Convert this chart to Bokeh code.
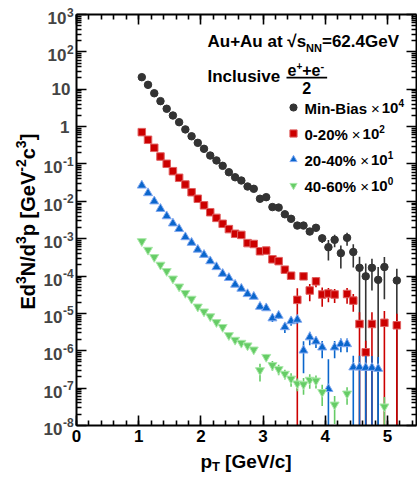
import math
from bokeh.plotting import figure
from bokeh.models import (Range1d, FixedTicker, LogAxis, LinearAxis, Label, Legend,
                          LegendItem, BoxAnnotation, CustomJSTickFormatter)
from bokeh.embed import file_html
from bokeh.resources import INLINE

nan = float("nan")

# pT bin centres [GeV/c]
pt = [1.05, 1.15, 1.25, 1.35, 1.45, 1.55, 1.65, 1.75, 1.85, 1.95,
      2.05, 2.15, 2.25, 2.35, 2.45, 2.55, 2.65, 2.75, 2.85, 2.95,
      3.05, 3.15, 3.25, 3.35, 3.45, 3.55, 3.65, 3.75, 3.85, 3.95,
      4.05, 4.15, 4.25, 4.35, 4.45, 4.55, 4.65, 4.75, 4.85, 4.95,
      5.05, 5.15]

# Min-Bias x 10^4
minbias = [21.0, 13.1, 7.8, 4.8, 3.0, 1.98, 1.31, 0.84, 0.55, 0.367,
           0.254, 0.168, 0.124, 0.089, 0.060, 0.044, 0.036, 0.0249, 0.0216, 0.0117,
           0.0129, 0.0070, 0.0068, 0.0045, 0.0034, 0.00224, 0.00224, 0.00155, 0.00195, 0.00102,
           5.9e-4, 9.3e-4, 4.1e-4, 1.05e-3, 4.4e-4, 1.66e-4, 9.8e-5, 1.66e-4, 7.9e-5, 1.74e-4,
           nan, 7.6e-5]
minbias_err = [0, 0, 0, 0, 0, 0, 0, 0, 0, 0,
               0, 0, 0, 0, 0, 0, 0, 0, 0, 0,
               0, 0, 0, 0, 0, 2e-4, 2e-4, 1.5e-4, 2e-4, 2.5e-4,
               3.3e-4, 3.4e-4, 2.5e-4, 4e-4, 2.7e-4, 1.6e-4, 1.2e-4, 1.25e-4, 9.5e-5, 1.5e-4,
               0, 8e-5]

# 0-20% x 10^2
cent0020 = [0.71, 0.443, 0.270, 0.158, 0.101, 0.064, 0.0426, 0.0282, 0.0175, 0.0117,
            0.0078, 0.0051, 0.0036, 0.0025, 0.0018, 0.00135, 0.00126, 7.6e-4, 7.2e-4, 4.6e-4,
            4.8e-4, 2.8e-4, 2.5e-4, 1.48e-4, 1.02e-4, 2.3e-5, 9.8e-5, 4.1e-5, 7.2e-5, 3.2e-5,
            3.4e-5, 3.2e-5, nan, 3.3e-5, 2.2e-5, 5.2e-6, 9.1e-7, 5.2e-6, nan, 5.6e-6,
            nan, 4.8e-6]
cent0020_err = [0, 0, 0, 0, 0, 0, 0, 0, 0, 0,
                0, 0, 0, 0, 0, 0, 0, 0, 0, 0,
                0, 2.5e-5, 2.5e-5, 1.8e-5, 1.5e-5, 2.4e-5, 2e-5, 2e-5, 2.2e-5, 1.7e-5,
                1.4e-5, 1.3e-5, 0, 1.5e-5, 1.1e-5, 5.5e-6, 9.5e-7, 5.5e-6, 0, 5.9e-6,
                0, 5.0e-6]

# 20-40% x 10^1
cent2040 = [0.0265, 0.0166, 0.0100, 0.0063, 0.0040, 0.00257, 0.00182, 0.00110, 7.8e-4, 5.1e-4,
            3.7e-4, 2.5e-4, 1.74e-4, 1.15e-4, 8.9e-5, 5.9e-5, 4.6e-5, 3.3e-5, 2.8e-5, 1.51e-5,
            1.38e-5, 7.4e-6, 8.7e-6, 4.3e-6, 6.2e-6, 6.8e-6, 1.02e-6, 2.3e-6, 1.78e-6, 1.23e-6,
            9.5e-8, 1.23e-6, 1.51e-6, 1.51e-6, 3.6e-7, 3.6e-7, 3.5e-7, 3.5e-7, 3.3e-7, nan,
            nan, nan]
cent2040_err = [0, 0, 0, 0, 0, 0, 0, 0, 0, 0,
                0, 0, 0, 0, 0, 0, 0, 0, 0, 0,
                1.5e-6, 1.5e-6, 1.5e-6, 1.3e-6, 1.5e-6, 1.5e-6, 7.7e-7, 9e-7, 6e-7, 6e-7,
                5e-7, 6e-7, 6e-7, 6e-7, 3.8e-7, 3.8e-7, 3.7e-7, 3.7e-7, 3.5e-7, 0,
                0, 0]

# 40-60% x 10^0
cent4060 = [8.5e-4, 5.0e-4, 3.2e-4, 2.0e-4, 1.35e-4, 8.5e-5, 5.2e-5, 3.5e-5, 2.45e-5, 1.51e-5,
            1.12e-5, 8.3e-6, 5.8e-6, 4.3e-6, 2.6e-6, 1.95e-6, 1.62e-6, 1.38e-6, 1.07e-6, 3.0e-7,
            6.8e-7, 4.1e-7, 3.2e-7, 2.4e-7, 1.78e-7, 1.32e-7, 1.26e-7, 1.66e-7, 1.58e-7, 7.8e-8,
            nan, 3.6e-8, nan, 7.1e-8, nan, nan, nan, nan, nan, 3.2e-8,
            nan, nan]
cent4060_err = [0, 0, 0, 0, 0, 0, 0, 0, 0, 0,
                0, 0, 0, 0, 0, 0, 0, 0, 0, 1.5e-7,
                1.4e-7, 1.2e-7, 1e-7, 7e-8, 7e-8, 5e-8, 6e-8, 7e-8, 6e-8, 4.5e-8,
                0, 2.5e-8, 0, 3.5e-8, 0, 0, 0, 0, 0, 2.6e-8,
                0, 0]

legend_names = ["Min-Bias", "0-20%", "20-40%", "40-60%"]
legend_exps = ["4", "2", "1", "0"]
y_decades = list(range(-8, 4))
x_major = [0, 1, 2, 3, 4, 5]
X_AXIS_MAX = 5.47
Y_AXIS_MIN, Y_AXIS_MAX = 1e-8, 1e3

# ---------------- layout constants (pixels) ----------------
W, H = 417, 478
X0_PX, PX_PER_X = 76.0, 62.2          # page x of pT=0, pixels per GeV/c
YTOP_PX, PX_PER_DEC = 14.0, 37.36     # page y of 10^3, pixels per decade
FONT = "Liberation Sans"

x_lo = -X0_PX / PX_PER_X
x_hi = (W - X0_PX) / PX_PER_X
y_hi = 10 ** (math.log10(Y_AXIS_MAX) + YTOP_PX / PX_PER_DEC)
y_lo = 10 ** (math.log10(Y_AXIS_MAX) - (H - YTOP_PX) / PX_PER_DEC)

p = figure(width=W, height=H, x_range=Range1d(x_lo, x_hi), y_range=Range1d(y_lo, y_hi),
           y_axis_type="log", output_backend="svg", toolbar_location=None, min_border=0)
p.grid.visible = False
p.outline_line_color = None
p.background_fill_color = "white"
p.border_fill_color = "white"


def add_series(vals, errs, color, edge, marker, size):
    xs, lo, hi = [], [], []
    for x, v, e in zip(pt, vals, errs):
        if not math.isnan(v) and e > 0:
            xs.append(x)
            lo.append(max(v - e, Y_AXIS_MIN))
            hi.append(v + e)
    p.segment(x0=xs, y0=lo, x1=xs, y1=hi, line_color=color, line_width=1.6)
    return p.scatter(pt, vals, marker=marker, size=size, fill_color=color,
                     line_color=edge, line_width=1)


r_mb = add_series(minbias, minbias_err, "#333333", "#333333", "circle", 7.5)
r_c0 = add_series(cent0020, cent0020_err, "#cc0000", "#e06060", "square", 7.5)
r_c2 = add_series(cent2040, cent2040_err, "#0a66cc", "#80a8f0", "triangle", 9)
r_c4 = add_series(cent4060, cent4060_err, "#66cc66", "#a8e8a8", "inverted_triangle", 9)

# ---------------- axes (frame drawn by 4 fixed-location axes) ----------------
xt = FixedTicker(ticks=x_major, minor_ticks=[round(0.2 * i, 1) for i in range(0, 28)])
yt = FixedTicker(ticks=[10.0 ** k for k in y_decades],
                 minor_ticks=[m * 10.0 ** k for k in y_decades[:-1] for m in range(2, 10)])
blank = CustomJSTickFormatter(code="return ''")

xb = p.below[0]
yl = p.left[0]
xb.ticker = xt
yl.ticker = yt
yl.formatter = blank
xb.fixed_location = Y_AXIS_MIN
yl.fixed_location = 0
xa = LinearAxis(ticker=xt, formatter=blank, fixed_location=Y_AXIS_MAX)
yr = LogAxis(ticker=yt, formatter=blank, fixed_location=X_AXIS_MAX)
p.add_layout(xa, "above")
p.add_layout(yr, "right")

for ax in (xb, xa):
    ax.bounds = (0, X_AXIS_MAX)
for ax in (yl, yr):
    ax.bounds = (Y_AXIS_MIN, Y_AXIS_MAX)

for ax in (xb, xa, yl, yr):
    ax.axis_line_width = 2
    ax.axis_line_color = "black"
    ax.major_tick_in = 10
    ax.major_tick_out = 0
    ax.minor_tick_in = 5
    ax.minor_tick_out = 0
    ax.major_tick_line_width = 1.6
    ax.minor_tick_line_width = 1.6

for ax in (xa, yl, yr):
    ax.major_label_text_font_size = "0px"
    ax.major_label_standoff = 0

xb.major_label_text_font = FONT
xb.major_label_text_font_style = "bold"
xb.major_label_text_font_size = "17px"
xb.major_label_text_color = "black"
xb.major_label_standoff = 5

# ---------------- text helpers ----------------
AW = {'E': 667, 'd': 611, 'N': 722, '/': 278, 'p': 611, ' ': 278, '[': 333, 'G': 778,
      'e': 556, 'V': 667, 'c': 556, ']': 333, '-': 333, 'A': 722, 'u': 611, '+': 584,
      'a': 556, 't': 333, 's': 556, '=': 584, '.': 278, 'I': 278, 'n': 611, 'l': 278,
      'i': 278, 'v': 556, 'M': 833, 'B': 722, '%': 889, '×': 584, '√': 549, 'T': 611}


def tw(s, size):
    return sum(AW.get(c, 556) for c in s) * size / 1000.0


def lab(text, px, py, size, align="left", angle=0.0, style="bold"):
    """py is the vertical centre (middle) of the text line in page pixels."""
    p.add_layout(Label(x=px, y=H - py, x_units="screen", y_units="screen", text=text,
                       text_font=FONT, text_font_size=f"{size}px", text_font_style=style,
                       text_align=align, text_baseline="middle", angle=angle,
                       text_color="black"))


def compose(px, py, pieces):
    for text, size, rise, style in pieces:
        lab(text, px, py - rise, size, style=style)
        px += tw(text, size)
    return px


# y tick labels (placed on the data scale of the y axis)
for k in y_decades:
    yv = 10.0 ** k
    if k in (0, 1):
        txt = "1" if k == 0 else "10"
        p.add_layout(Label(x=70 if k == 1 else 69, x_units="screen", y=yv, y_units="data",
                           text=txt, text_font=FONT, text_font_size="17px",
                           text_font_style="bold", text_align="right", text_baseline="middle"))
    else:
        base_r = 66 if k > 0 else 62
        p.add_layout(Label(x=base_r, x_units="screen", y=yv, y_units="data", y_offset=-3.5,
                           text="10", text_font=FONT, text_font_size="17px",
                           text_font_style="bold", text_align="right", text_baseline="middle"))
        p.add_layout(Label(x=base_r + 0.5, x_units="screen", y=yv, y_units="data", y_offset=2.5,
                           text=str(k), text_font=FONT, text_font_size="12px",
                           text_font_style="bold", text_align="left", text_baseline="middle"))

# header
compose(207, 40.5, [("Au+Au at √s", 17, 0, "bold"), ("NN", 11, -6.5, "bold"),
                    ("=62.4GeV", 17, 0, "bold")])
compose(207, 75.5, [("Inclusive", 17, 0, "bold")])
num_end = compose(287, 69.0, [("e", 16, 0, "bold"), ("+", 10, 4, "bold"),
                              ("+e", 16, 0, "bold"), ("-", 11, 4, "bold")])
p.add_layout(BoxAnnotation(left=286, right=num_end + 3, top=H - 76.3, bottom=H - 78.0,
                           left_units="screen", right_units="screen", top_units="screen",
                           bottom_units="screen", fill_color="black", fill_alpha=1,
                           line_alpha=0))
lab("2", (286 + num_end + 3) / 2, 87, 16, align="center")

# legend text
for i, (name, ex) in enumerate(zip(legend_names, legend_exps)):
    mid_y = 107.5 + 26 * i
    xx = compose(304, mid_y, [(name, 15, 0, "bold")]) + 4
    xx = compose(xx, mid_y, [("×", 15, 0, "normal")]) + 2
    compose(xx, mid_y, [("10", 15, 0, "bold"), (ex, 10, 5, "bold")])

# legend markers
legend = Legend(items=[LegendItem(label=" ", renderers=[r]) for r in (r_mb, r_c0, r_c2, r_c4)],
                location=(284, H - (94 + 4 * 26)), orientation="vertical",
                background_fill_alpha=0, border_line_alpha=0, padding=0, margin=0,
                spacing=0, label_height=26, glyph_height=18, glyph_width=18,
                label_standoff=0, label_text_font_size="6px", label_width=1)
p.add_layout(legend)

# y-axis title (rotated, composed bottom->top)
ypos = 309.0
for text, size, rise in [("Ed", 20, 0), ("3", 14, 7), ("N/d", 20, 0), ("3", 14, 7),
                         ("p [GeV", 20, 0), ("-2", 14, 7), ("c", 20, 0), ("3", 14, 7),
                         ("]", 20, 0)]:
    lab(text, 27 - rise, ypos, size, angle=math.pi / 2)
    ypos -= tw(text, size)

# x-axis title
xx = compose(200, 461, [("p", 19, 0, "bold"), ("T", 13, -5, "bold")]) + 5
compose(xx, 461, [("[GeV/c]", 19, 0, "bold")])

open("out.html", "w").write(file_html(p, INLINE))
